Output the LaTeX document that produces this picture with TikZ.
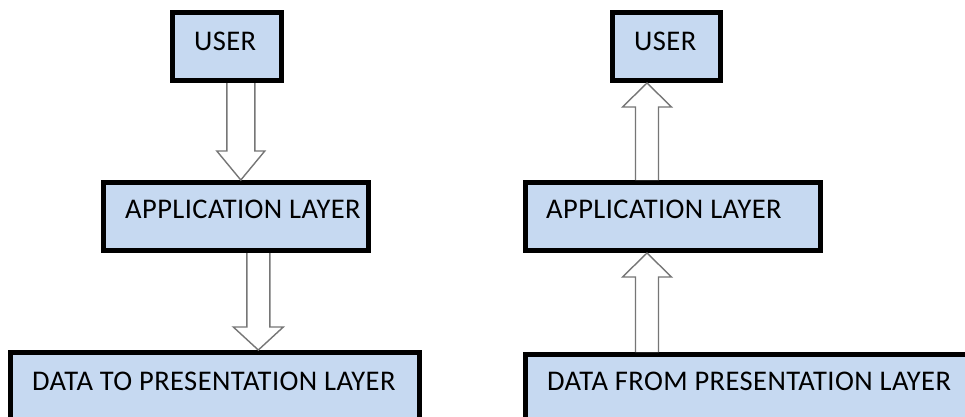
\documentclass[tikz,border=0pt]{standalone}
\usepackage{fontspec}
\setmainfont[LetterSpace=1.5]{Carlito}
\usetikzlibrary{calc}

\definecolor{boxfill}{RGB}{198,217,241}
\definecolor{arrowline}{RGB}{118,118,118}

\tikzset{
  layerbox/.style={draw=black, line width=5pt, fill=boxfill, rectangle,
                   inner sep=0pt},
  boxtext/.style={anchor=base west, inner sep=0pt, text=black,
                  font=\fontsize{28.5}{31}\selectfont},
  blockarrow/.style={draw=arrowline, fill=white, line width=1.4pt,
                     line join=miter},
}

% hollow block arrow: #1 tail, #2 tip, #3 half shaft width,
% #4 half head width, #5 offset of the head base from the tip
\newcommand\blockarrow[5]{%
  \filldraw[blockarrow]
    ($(#1)+({-#3},0)$) -- ($(#2)+({-#3},{#5})$) -- ($(#2)+({-#4},{#5})$)
    -- (#2) -- ($(#2)+({#4},{#5})$) -- ($(#2)+({#3},{#5})$)
    -- ($(#1)+({#3},0)$);
}

\begin{document}
\begin{tikzpicture}[x=1pt, y=-1pt]
  \useasboundingbox (0,0) rectangle (965,416);
  \clip (0,0) rectangle (965,416);
  \fill[white] (0,0) rectangle (965,416);

  % left column: user -> application -> presentation
  \node[layerbox, minimum width=109pt, minimum height=68pt] (u1) at (227,46.5) {};
  \node[layerbox, minimum width=265pt, minimum height=68pt] (a1) at (236,216.5) {};
  \node[layerbox, minimum width=409pt, minimum height=90pt] (d1) at (215,397.5) {};

  \node[boxtext] (u1t) at (194,50.5) {USER};
  \node[boxtext] (a1t) at (125,218.5) {APPLICATION LAYER};
  \node[boxtext] (d1t) at (32,390.5) {DATA TO PRESENTATION LAYER};

  % right column: presentation -> application -> user
  \node[layerbox, minimum width=108pt, minimum height=68pt] (u2) at (666.5,46.5) {};
  \node[layerbox, minimum width=295pt, minimum height=68pt] (a2) at (673,216.5) {};
  \node[layerbox, minimum width=480pt, minimum height=90pt] (d2) at (765.5,399.5) {};

  \node[boxtext] (u2t) at (634,50.5) {USER};
  \node[boxtext] (a2t) at (546,218.5) {APPLICATION LAYER};
  \node[boxtext] (d2t) at (547,390.5) {DATA FROM PRESENTATION LAYER};

  % arrow end points on the box edges
  \coordinate (r1s) at (240.8,0 |- u1.south);
  \coordinate (r1t) at (240.8,0 |- a1.north);
  \coordinate (r2s) at (258.3,0 |- a1.south);
  \coordinate (r2t) at (258.3,0 |- d1.north);
  \coordinate (r3s) at (647,0 |- a2.north);
  \coordinate (r3t) at (647,0 |- u2.south);
  \coordinate (r4s) at (647,0 |- d2.north);
  \coordinate (r4t) at (647,0 |- a2.south);

  \blockarrow{r1s}{r1t}{14}{24}{-29}
  \blockarrow{r2s}{r2t}{11.5}{25}{-23}
  \blockarrow{r3s}{r3t}{11.5}{24.5}{24}
  \blockarrow{r4s}{r4t}{11.5}{24.5}{24}
\end{tikzpicture}
\end{document}
